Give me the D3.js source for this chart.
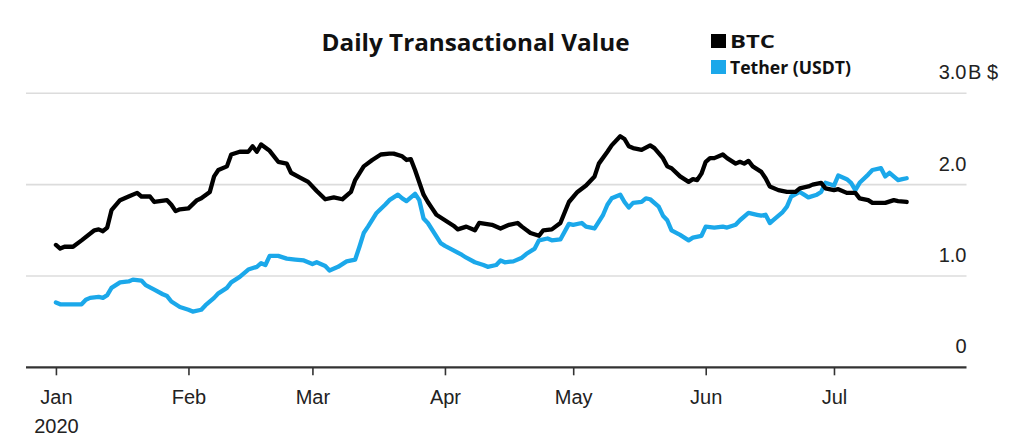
<!DOCTYPE html>
<html>
<head>
<meta charset="utf-8">
<script src="https://cdn.jsdelivr.net/npm/d3@7"></script>
<style>
  html, body { margin: 0; padding: 0; background: #fff; }
  svg { display: block; }
  .axis-label { font-family: "Liberation Sans", Arial, sans-serif; font-size: 20px; fill: #222; }
  .title { font-family: "Open Sans", sans-serif; font-weight: 700; font-size: 24px; fill: #111; }
  .legend { font-family: "Open Sans", sans-serif; font-weight: 700; font-size: 17px; fill: #111; }
</style>
</head>
<body>
<svg id="chart" width="1024" height="443"></svg>
<script>
'use strict';

// days since 1 Jan 2020, value in billions of dollars
var btcSeries = [
    [0,1.34],[1,1.30],[2,1.32],[4,1.32],[6,1.39],[9,1.50],[10,1.51],[11,1.49],[12,1.53],[13,1.72],
    [15,1.83],[17,1.87],[19,1.91],[20,1.87],[22,1.87],[23,1.81],[26,1.83],[27,1.78],[28,1.71],[29,1.73],
    [31,1.74],[33,1.83],[34,1.85],[36,1.92],[37,2.09],[38,2.16],[40,2.20],[41,2.33],[43,2.36],[45,2.36],
    [46,2.42],[47,2.36],[48,2.44],[50,2.37],[52,2.25],[54,2.23],[55,2.13],[57,2.08],[59,2.03],[61,1.93],
    [63,1.84],[65,1.86],[67,1.84],[69,1.92],[70,2.05],[72,2.20],[74,2.27],[76,2.33],[78,2.34],[79,2.34],
    [81,2.31],[82,2.27],[83,2.28],[84,2.16],[86,1.89],[87,1.81],[88,1.74],[89,1.67],[91,1.61],[93,1.55],
    [94,1.51],[96,1.54],[98,1.50],[99,1.58],[102,1.56],[104,1.52],[106,1.56],[108,1.58],[109,1.54],[111,1.47],
    [113,1.44],[114,1.50],[116,1.51],[118,1.58],[120,1.81],[122,1.92],[124,1.99],[126,2.09],[127,2.23],[129,2.36],
    [130,2.43],[132,2.53],[133,2.50],[134,2.42],[135,2.40],[137,2.38],[139,2.43],[140,2.40],[142,2.29],[143,2.20],
    [144,2.18],[146,2.09],[148,2.03],[149,2.06],[150,2.05],[151,2.12],[152,2.25],[153,2.29],[154,2.29],[156,2.33],
    [157,2.29],[159,2.23],[160,2.25],[161,2.23],[162,2.26],[163,2.20],[165,2.14],[166,2.07],[167,1.98],[169,1.94],
    [171,1.92],[173,1.92],[174,1.96],[176,1.98],[177,2.00],[179,2.02],[180,1.96],[182,1.94],[183,1.95],[185,1.91],
    [187,1.91],[188,1.85],[190,1.83],[191,1.80],[194,1.80],[196,1.83],[197,1.82],[199,1.81]
];

var usdtSeries = [
    [0,0.71],[1,0.69],[3,0.69],[6,0.69],[7,0.74],[8,0.76],[10,0.77],[11,0.76],[12,0.79],[13,0.87],
    [15,0.93],[17,0.94],[18,0.96],[20,0.95],[21,0.90],[23,0.85],[25,0.80],[26,0.78],[27,0.72],[29,0.66],
    [31,0.63],[32,0.61],[34,0.63],[35,0.68],[37,0.76],[38,0.81],[40,0.87],[41,0.93],[43,0.99],[45,1.07],
    [47,1.10],[48,1.14],[49,1.12],[50,1.22],[52,1.22],[54,1.19],[56,1.18],[58,1.17],[60,1.13],[61,1.15],
    [63,1.11],[64,1.06],[66,1.10],[68,1.16],[70,1.18],[71,1.32],[72,1.47],[73,1.54],[75,1.69],[77,1.78],
    [78,1.83],[80,1.89],[81,1.85],[82,1.82],[84,1.90],[85,1.83],[86,1.63],[87,1.58],[90,1.36],[91,1.33],
    [93,1.28],[95,1.23],[96,1.20],[98,1.15],[100,1.12],[101,1.10],[103,1.12],[104,1.17],[105,1.15],[107,1.16],
    [109,1.20],[110,1.24],[112,1.30],[113,1.39],[115,1.41],[116,1.39],[118,1.40],[120,1.57],[121,1.56],[123,1.58],
    [124,1.54],[126,1.52],[128,1.67],[129,1.78],[130,1.85],[132,1.89],[133,1.81],[134,1.75],[135,1.80],[137,1.81],
    [138,1.85],[139,1.84],[141,1.76],[142,1.66],[143,1.61],[144,1.50],[146,1.45],[148,1.39],[149,1.42],[151,1.44],
    [152,1.54],[154,1.53],[156,1.54],[157,1.53],[159,1.56],[160,1.61],[162,1.69],[164,1.67],[165,1.66],[166,1.67],
    [167,1.58],[168,1.62],[170,1.70],[171,1.76],[172,1.87],[174,1.92],[175,1.89],[176,1.86],[178,1.89],[179,1.92],
    [180,2.02],[182,1.99],[183,2.10],[185,2.06],[186,2.02],[187,1.94],[188,2.02],[190,2.11],[191,2.16],[193,2.18],
    [194,2.09],[195,2.13],[197,2.05],[198,2.06],[199,2.07]
];

var yTicks = [0, 1, 2, 3];
var yTickLabels = ["0", "1.0", "2.0", "3.0"];
var monthTicks = ["2020-01-01","2020-02-01","2020-03-01","2020-04-01","2020-05-01","2020-06-01","2020-07-01"];
var seriesNames = ["BTC", "Tether (USDT)"];
var seriesColors = ["#000000", "#1ba8ea"];
var legendWidths = [45, 121];

var parseDay = d3.timeParse("%Y-%m-%d");
var origin = parseDay("2020-01-01");

var svg = d3.select("#chart");

var x = d3.scaleTime()
    .domain([parseDay("2019-12-25"), parseDay("2020-08-01")])
    .range([26, 966.5]);

var y = d3.scaleLinear()
    .domain([0, 3])
    .range([367.3, 93.3]);

// gridlines
svg.append("g")
    .selectAll("line")
    .data(yTicks.filter(function(d) { return d > 0; }))
    .enter()
    .append("line")
    .attr("x1", x.range()[0])
    .attr("x2", x.range()[1])
    .attr("y1", function(d) { return y(d); })
    .attr("y2", function(d) { return y(d); })
    .attr("stroke", "#dcdcdc")
    .attr("stroke-width", 1.6);

// right-hand value labels, sitting above their gridline
svg.append("g")
    .selectAll("text")
    .data(yTicks)
    .enter()
    .append("text")
    .attr("class", "axis-label")
    .attr("x", x.range()[1])
    .attr("y", function(d) { return y(d) - 14; })
    .attr("text-anchor", "end")
    .text(function(d, i) { return yTickLabels[i]; });

svg.append("text")
    .attr("class", "axis-label")
    .attr("x", x.range()[1] + 1.5)
    .attr("y", y(3) - 14)
    .text("B $");

// x axis
var xAxis = d3.axisBottom(x)
    .tickValues(monthTicks.map(parseDay))
    .tickSize(8)
    .tickPadding(15)
    .tickFormat(d3.timeFormat("%b"));

var axisG = svg.append("g")
    .attr("transform", "translate(0," + y(0) + ")")
    .call(xAxis);

axisG.attr("font-size", null).attr("font-family", null);

axisG.select(".domain")
    .attr("stroke", "#333")
    .attr("stroke-width", 2.2)
    .attr("d", "M" + x.range()[0] + ",0H" + x.range()[1]);

axisG.selectAll(".tick line")
    .attr("stroke", "#333")
    .attr("stroke-width", 1.6);

axisG.selectAll(".tick text")
    .attr("class", "axis-label")
    .attr("fill", null);

axisG.select(".tick text")
    .append("tspan")
    .attr("x", 0)
    .attr("dy", "1.45em")
    .text("2020");

// lines
var line = d3.line()
    .x(function(d) { return x(d3.timeDay.offset(origin, d[0])); })
    .y(function(d) { return y(d[1]); });

svg.append("g")
    .selectAll("path")
    .data([usdtSeries, btcSeries])
    .enter()
    .append("path")
    .attr("d", line)
    .attr("fill", "none")
    .attr("stroke", function(d, i) { return i === 0 ? seriesColors[1] : seriesColors[0]; })
    .attr("stroke-width", 4.3)
    .attr("stroke-linejoin", "round")
    .attr("stroke-linecap", "round");

// title
svg.append("text")
    .attr("class", "title")
    .attr("x", 321.5)
    .attr("y", 50.5)
    .attr("textLength", 308)
    .attr("lengthAdjust", "spacingAndGlyphs")
    .text("Daily Transactional Value");

// legend
var legend = svg.append("g")
    .selectAll("g")
    .data(seriesNames)
    .enter()
    .append("g")
    .attr("transform", function(d, i) { return "translate(711," + (34 + i * 26) + ")"; });

legend.append("rect")
    .attr("width", 15)
    .attr("height", 14)
    .attr("fill", function(d, i) { return seriesColors[i]; });

legend.append("text")
    .attr("class", "legend")
    .attr("x", 19)
    .attr("y", 13.5)
    .attr("textLength", function(d, i) { return legendWidths[i]; })
    .attr("lengthAdjust", "spacingAndGlyphs")
    .text(function(d) { return d; });
</script>
</body>
</html>
